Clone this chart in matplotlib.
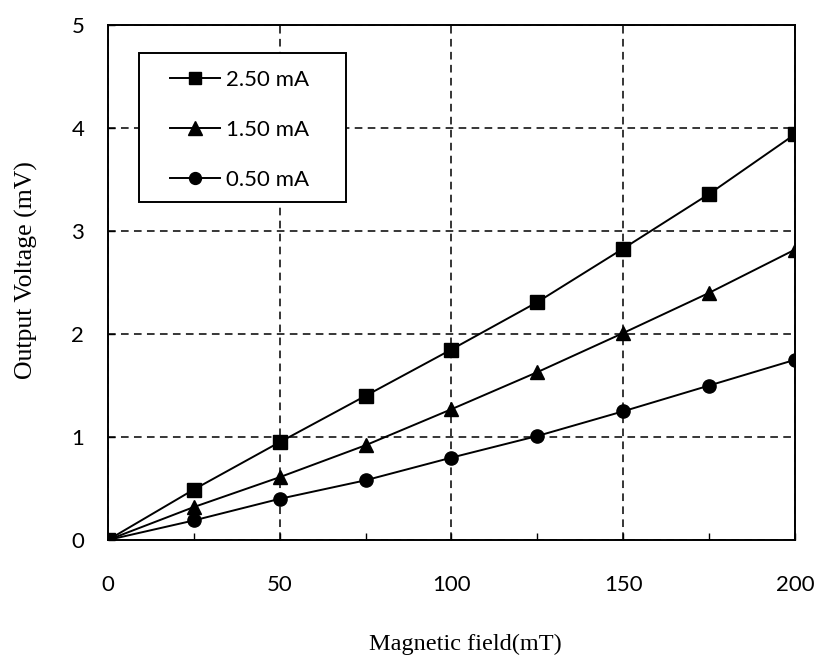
import matplotlib
matplotlib.use("Agg")
import matplotlib.pyplot as plt
from matplotlib.patches import Rectangle
from matplotlib.ticker import MultipleLocator

# Magnetic field (mT) and Hall output voltage (mV) for three bias currents
field_mT = [0, 25, 50, 75, 100, 125, 150, 175, 200]
v_250mA = [0, 0.49, 0.95, 1.40, 1.85, 2.31, 2.83, 3.36, 3.94]
v_150mA = [0, 0.32, 0.61, 0.92, 1.27, 1.63, 2.01, 2.40, 2.82]
v_050mA = [0, 0.19, 0.40, 0.58, 0.80, 1.01, 1.25, 1.50, 1.75]
series_labels = ["2.50 mA", "1.50 mA", "0.50 mA"]
x_ticks = [0, 50, 100, 150, 200]
y_ticks = [0, 1, 2, 3, 4, 5]

fig = plt.figure(figsize=(8.17, 6.61), dpi=100)
ax = fig.add_axes([0.132, 0.183, 0.841, 0.779])

tick_font = "Lato"
label_font = "Liberation Serif"

ax.plot(field_mT, v_250mA, color="black", lw=1.4, marker="s", ms=9.5,
        label=series_labels[0], zorder=3)
ax.plot(field_mT, v_150mA, color="black", lw=1.4, marker="^", ms=10.5,
        label=series_labels[1], zorder=3)
ax.plot(field_mT, v_050mA, color="black", lw=1.4, marker="o", ms=9.5,
        label=series_labels[2], zorder=3)

ax.set_xlim(0, 200)
ax.set_ylim(0, 5)
ax.set_xticks(x_ticks)
ax.set_yticks(y_ticks)
ax.xaxis.set_minor_locator(MultipleLocator(25))
ax.grid(True, which="major", color="black", linestyle=(0, (5, 3.5)), lw=1.1)

ax.tick_params(axis="both", which="major", direction="in", length=5,
               width=1, labelsize=16)
ax.tick_params(axis="x", which="major", pad=25)
ax.tick_params(axis="y", which="major", pad=17)
ax.tick_params(axis="x", which="minor", direction="in", length=5, width=1)
for lab in ax.get_xticklabels() + ax.get_yticklabels():
    lab.set_fontfamily(tick_font)

for sp in ax.spines.values():
    sp.set_linewidth(1.4)
    sp.set_color("black")

ax.set_xlabel("Magnetic field(mT)", fontfamily=label_font, fontsize=17.5,
              va="center")
ax.set_ylabel("Output Voltage (mV)", fontfamily=label_font, fontsize=18.5,
              va="center")
ax.xaxis.set_label_coords(0.52, -0.203)
ax.yaxis.set_label_coords(-0.118, 0.524)

# Legend frame drawn as a plain rectangle, entries placed inside it
ax.add_patch(Rectangle((0.045, 0.656), 0.301, 0.290, transform=ax.transAxes,
                       facecolor="white", edgecolor="black", lw=1.4,
                       zorder=4))
leg = ax.legend(loc="center left", bbox_to_anchor=(0.090, 0.796),
                prop={"family": tick_font, "size": 16},
                frameon=False, labelspacing=1.35, handlelength=2.25,
                handletextpad=0.3, borderpad=0, borderaxespad=0,
                markerscale=0.9)
leg.set_zorder(5)

fig.savefig("out.png", dpi=100)
